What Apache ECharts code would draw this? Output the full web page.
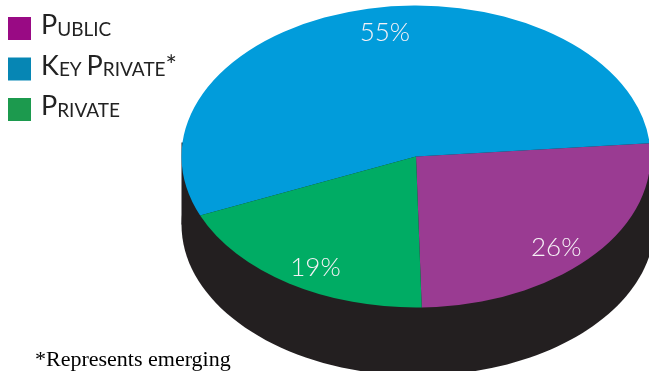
<!DOCTYPE html>
<html>
<head>
<meta charset="utf-8">
<style>html,body{margin:0;padding:0;background:#fff}#chart{width:649px;height:371px}</style>
<script src="https://cdn.jsdelivr.net/npm/echarts@6/dist/echarts.min.js"></script>
</head>
<body>
<div id="chart"></div>
<script>
const categories = ['Public', 'Key Private*', 'Private'];
const shares = [26, 55, 19];
// Clockwise order of the slices around the disc, as indexes into categories.
const sliceOrder = [0, 2, 1];
const sliceColors = ['#9a3b92', '#019cdb', '#00ac64'];
const legendColors = ['#990a84', '#0686b4', '#1c9a4e'];
const sideColor = '#231f20';
const footnote = '*Represents emerging';

// Drum geometry: a tilted disc is a circle squashed vertically.
const CX = 416, CY = 156.5, RX = 234.5, RY = 151, DEPTH = 68;
const START_DEG = 5;
// Where each percentage sits: a fraction of the radius and a small angular nudge.
const LABEL_RADIUS = [0.85, 0.83, 0.85];
const LABEL_NUDGE_DEG = [-3.5, -4.8, 2.5];

const total = shares.reduce((a, b) => a + b, 0);
function sliceSpan(idx) {
  let before = 0;
  for (const k of sliceOrder) {
    if (k === idx) break;
    before += shares[k];
  }
  const from = START_DEG - before / total * 360;
  return [from, from - shares[idx] / total * 360];
}

function renderSlice(idx) {
  return function () {
    const [a, b] = sliceSpan(idx);
    const mid = (a + b) / 2 + LABEL_NUDGE_DEG[idx];
    const rad = mid * Math.PI / 180;
    return {
      type: 'group',
      children: [
        {
          type: 'sector',
          x: CX, y: CY, scaleY: RY / RX,
          shape: {
            cx: 0, cy: 0, r0: 0, r: RX,
            startAngle: -a * Math.PI / 180,
            endAngle: -b * Math.PI / 180,
            clockwise: true
          },
          style: { fill: sliceColors[idx] }
        },
        {
          type: 'text',
          z2: 10,
          x: CX + Math.cos(rad) * RX * LABEL_RADIUS[idx],
          y: CY - Math.sin(rad) * RY * LABEL_RADIUS[idx],
          style: {
            text: shares[idx] + '%',
            fill: '#f6f1f6',
            font: '300 26px Lato',
            align: 'center',
            verticalAlign: 'middle'
          }
        }
      ]
    };
  };
}

function renderSide() {
  return {
    type: 'group',
    children: [
      {
        type: 'rect',
        shape: { x: CX - RX, y: CY - 14, width: RX * 2, height: DEPTH + 14 },
        style: { fill: sideColor }
      },
      {
        type: 'ellipse',
        shape: { cx: CX + 2, cy: CY + DEPTH, rx: RX + 2, ry: RY },
        style: { fill: sideColor }
      }
    ]
  };
}

// Small-caps legend text: capitals stay large, the rest drop to the small style.
function smallCaps(name) {
  return name.split(/(\s+)/).map(word => {
    if (!word.trim()) return '{s| }';
    const star = word.endsWith('*');
    const body = star ? word.slice(0, -1) : word;
    return '{b|' + body[0] + '}{s|' + body.slice(1).toUpperCase() + '}' + (star ? '{b|*}' : '');
  }).join('');
}

// One legend block per row so the rows keep an even pitch.
const legends = categories.map((name, i) => ({
  orient: 'vertical',
  left: 8, top: 12 + 40.5 * i,
  padding: 0,
  itemWidth: 23, itemHeight: 23,
  icon: 'rect',
  selectedMode: false,
  data: [{ name, itemStyle: { color: legendColors[i] } }],
  formatter: smallCaps,
  textStyle: {
    padding: [0, 0, 2, 5],
    rich: {
      b: { fontFamily: 'Lato', fontSize: 27, color: '#222', lineHeight: 23, verticalAlign: 'bottom' },
      s: { fontFamily: 'Lato', fontSize: 19, color: '#222', lineHeight: 23, verticalAlign: 'bottom' }
    }
  }
}));

const chart = echarts.init(document.getElementById('chart'), null, { renderer: 'canvas' });
chart.setOption({
  animation: false,
  backgroundColor: '#fff',
  title: {
    text: footnote,
    left: 35, top: 349,
    padding: 0,
    textStyle: { fontFamily: 'Liberation Serif', fontSize: 22, fontWeight: 'normal', color: '#000' }
  },
  legend: legends,
  series: [
    { type: 'custom', name: 'Side', coordinateSystem: 'none', silent: true, data: [1], renderItem: renderSide, z: 1 }
  ].concat(categories.map((name, i) => ({
    type: 'custom',
    name,
    coordinateSystem: 'none',
    silent: true,
    itemStyle: { color: sliceColors[i] },
    data: [shares[i]],
    renderItem: renderSlice(i),
    z: 2
  })))
});
</script>
</body>
</html>
